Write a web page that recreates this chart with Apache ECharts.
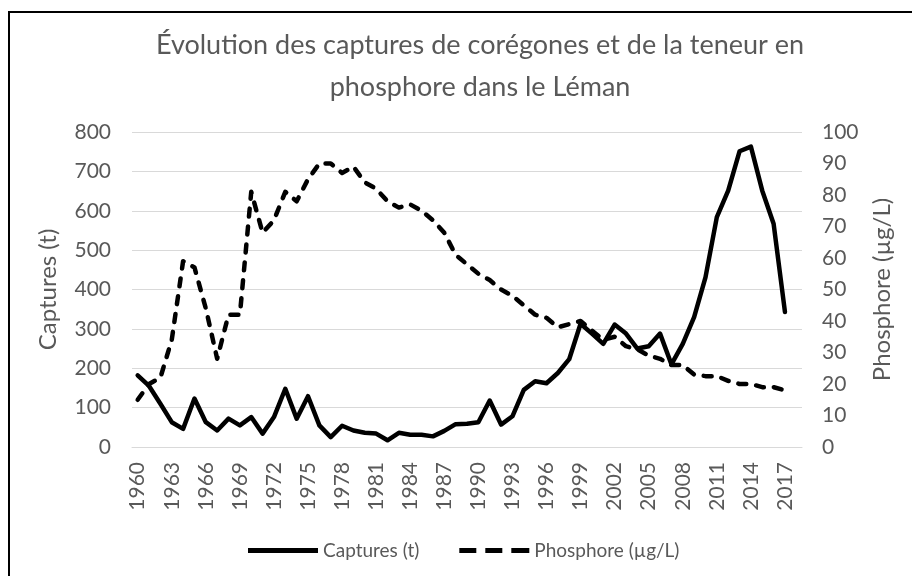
<!DOCTYPE html>
<html>
<head>
<meta charset="utf-8">
<script src="https://cdn.jsdelivr.net/npm/echarts@6/dist/echarts.min.js"></script>
<style>
  html, body { margin: 0; padding: 0; background: #fff; }
  #chart { width: 912px; height: 576px; }
</style>
</head>
<body>
<div id="chart"></div>
<script>
// years 1960..2018 (2018 has no data, Excel leaves an empty slot)
const years = []
for (let y = 1960; y <= 2018; y++) years.push(String(y))

// Captures de corégones (t), 1960-2017
const captures = [
  182, 155, 110, 63, 46, 123, 63, 42, 72, 55,
  76, 34, 76, 148, 72, 129, 55, 25, 54, 42,
  36, 34, 17, 36, 31, 31, 27, 41, 58, 59,
  63, 118, 57, 78, 145, 167, 162, 188, 223, 313,
  288, 262, 311, 288, 250, 256, 288, 210, 262, 330,
  431, 584, 651, 751, 763, 651, 567, 343
]

// Phosphore (µg/L), 1960-2017
const phosphore = [
  15, 20, 22, 34, 59, 57, 44, 28, 42, 42,
  81, 68, 72, 81, 78, 85, 90, 90, 87, 89,
  84, 82, 78, 76, 77, 75, 72, 68, 61, 58,
  55, 53, 50, 48, 45, 42, 41, 38, 39, 40,
  37, 34, 35, 32, 31, 29, 28, 26, 26, 23,
  22.5, 22.5, 21, 20, 20, 19, 19, 18
]

const titleText = 'Évolution des captures de corégones et de la teneur en\nphosphore dans le Léman'

const textColor = '#595959'
const fontFamily = 'Lato, "Open Sans", sans-serif'

// legend icons: a plain bar and a dashed bar
const solidIcon = 'path://M0,0H70V5H0Z'
const dashedIcon = 'path://M0,0H17V5H0Z M26,0H43V5H26Z M52,0H70V5H52Z'

const chart = echarts.init(document.getElementById('chart'))

chart.setOption({
  animation: false,
  backgroundColor: '#fff',
  textStyle: { fontFamily: fontFamily, color: textColor },
  legend: {
    left: 243,
    top: 536,
    itemWidth: 70,
    itemHeight: 5,
    itemGap: 40,
    textStyle: { fontFamily: fontFamily, fontSize: 19, color: textColor },
    data: [
      { name: 'Captures (t)', icon: solidIcon },
      { name: 'Phosphore (µg/L)', icon: dashedIcon }
    ]
  },
  grid: {
    left: 132,
    right: 110,
    top: 132,
    bottom: 129
  },
  xAxis: {
    type: 'category',
    data: years,
    boundaryGap: true,
    axisLine: { lineStyle: { color: '#d9d9d9', width: 1 } },
    axisTick: { show: false },
    axisLabel: {
      interval: 2,
      rotate: 90,
      margin: 15,
      fontSize: 21,
      color: textColor
    }
  },
  yAxis: [
    {
      type: 'value',
      min: 0,
      max: 800,
      interval: 100,
      name: 'Captures (t)',
      nameLocation: 'middle',
      nameRotate: 90,
      nameGap: 72,
      nameTextStyle: { fontSize: 24, color: textColor },
      axisLine: { show: false },
      axisTick: { show: false },
      axisLabel: { fontSize: 21, margin: 21, color: textColor },
      splitLine: { lineStyle: { color: '#d9d9d9', width: 1 } }
    },
    {
      type: 'value',
      min: 0,
      max: 100,
      interval: 10,
      name: 'Phosphore (µg/L)',
      nameLocation: 'middle',
      nameRotate: 90,
      nameGap: 68,
      nameTextStyle: { fontSize: 24, color: textColor },
      axisLine: { show: false },
      axisTick: { show: false },
      axisLabel: { fontSize: 21, margin: 20, color: textColor },
      splitLine: { show: false }
    }
  ],
  series: [
    {
      name: 'Captures (t)',
      type: 'line',
      yAxisIndex: 0,
      data: captures,
      symbol: 'none',
      lineStyle: { color: '#000', width: 4.5, join: 'round', cap: 'round' },
      itemStyle: { color: '#000' }
    },
    {
      name: 'Phosphore (µg/L)',
      type: 'line',
      yAxisIndex: 1,
      data: phosphore,
      symbol: 'none',
      lineStyle: { color: '#000', width: 4.5, type: [8, 10], cap: 'round', join: 'round' },
      itemStyle: { color: '#000' }
    }
  ],
  graphic: [
    {
      type: 'text',
      x: 480,
      y: 24,
      style: {
        text: titleText,
        textAlign: 'center',
        fontFamily: fontFamily,
        fontSize: 27,
        lineHeight: 42,
        fill: textColor
      }
    },
    {
      type: 'polyline',
      shape: { points: [[9, 576], [9, 12], [912, 12]] },
      style: { stroke: '#000', lineWidth: 2, fill: null }
    }
  ]
})
</script>
</body>
</html>
